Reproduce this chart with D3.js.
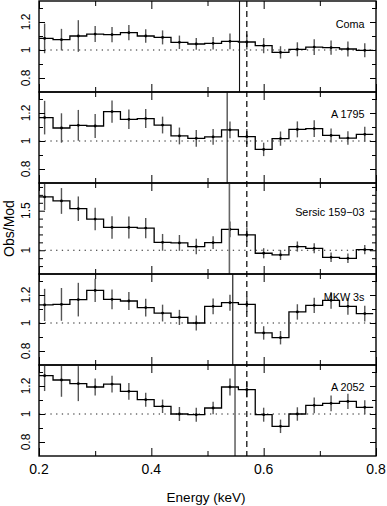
<!DOCTYPE html>
<html>
<head>
<meta charset="utf-8">
<script src="https://cdn.jsdelivr.net/npm/d3@7"></script>
<style>
  body { margin: 0; background: #fff; }
  svg { display: block; font-family: "Liberation Sans", Arial, Helvetica, sans-serif; }
  .domain { display: none; }
</style>
</head>
<body>
<div id="chart"></div>
<script>
// Bin centres (keV), bins are 0.03 keV wide
const energy = [0.21, 0.24, 0.27, 0.30, 0.33, 0.36, 0.39, 0.42, 0.45, 0.48,
                0.51, 0.54, 0.57, 0.60, 0.63, 0.66, 0.69, 0.72, 0.75, 0.78];
const binWidth = 0.03;

const clusterNames = ["Coma", "A 1795", "Sersic 159\u221203", "MKW 3s", "A 2052"];

// Obs/Mod ratios and 1-sigma errors
const comaRatio = [1.083, 1.074, 1.100, 1.114, 1.110, 1.124, 1.100, 1.090, 1.055, 1.043,
                   1.048, 1.062, 1.057, 1.031, 0.983, 1.005, 1.021, 1.017, 1.007, 0.998];
const comaErr   = [0.106, 0.077, 0.113, 0.057, 0.054, 0.055, 0.048, 0.050, 0.048, 0.042,
                   0.045, 0.056, 0.054, 0.054, 0.044, 0.050, 0.056, 0.051, 0.054, 0.050];

const a1795Ratio = [1.167, 1.093, 1.112, 1.107, 1.210, 1.155, 1.160, 1.114, 1.036, 1.019,
                    1.029, 1.079, 1.031, 0.940, 1.017, 1.083, 1.088, 1.040, 1.021, 1.048];
const a1795Err   = [0.120, 0.105, 0.110, 0.086, 0.080, 0.070, 0.068, 0.060, 0.060, 0.060,
                    0.056, 0.060, 0.054, 0.048, 0.051, 0.057, 0.060, 0.050, 0.048, 0.054];

const sersicRatio = [1.674, 1.623, 1.525, 1.394, 1.288, 1.288, 1.280, 1.100, 1.093, 1.047,
                     1.097, 1.263, 1.195, 0.962, 0.941, 1.047, 1.025, 0.911, 0.898, 1.008];
const sersicErr   = [0.165, 0.163, 0.155, 0.142, 0.142, 0.138, 0.127, 0.106, 0.100, 0.097,
                     0.080, 0.100, 0.095, 0.064, 0.064, 0.064, 0.064, 0.060, 0.060, 0.057];

const mkw3sRatio = [1.129, 1.133, 1.167, 1.233, 1.169, 1.157, 1.110, 1.071, 1.040, 1.000,
                    1.119, 1.145, 1.133, 0.929, 0.895, 1.079, 1.126, 1.162, 1.119, 1.067];
const mkw3sErr   = [0.115, 0.117, 0.120, 0.083, 0.070, 0.065, 0.063, 0.060, 0.054, 0.054,
                    0.056, 0.057, 0.054, 0.048, 0.048, 0.055, 0.055, 0.060, 0.060, 0.056];

const a2052Ratio = [1.274, 1.243, 1.217, 1.193, 1.214, 1.162, 1.102, 1.055, 1.000, 0.995,
                    1.043, 1.193, 1.174, 0.995, 0.912, 1.000, 1.062, 1.076, 1.090, 1.048];
const a2052Err   = [0.110, 0.120, 0.125, 0.060, 0.060, 0.060, 0.050, 0.048, 0.050, 0.050,
                    0.045, 0.060, 0.057, 0.050, 0.048, 0.048, 0.056, 0.057, 0.054, 0.050];

// Redshifted line energy per cluster (solid) and rest energy (dashed)
const lineEnergy = [0.557, 0.535, 0.539, 0.545, 0.549];
const restEnergy = 0.57;

// y ranges and ticks per panel
const yDomains = [[0.7, 1.35], [0.7, 1.35], [0.7, 1.85], [0.7, 1.35], [0.7, 1.35]];
const yMajor = [[0.8, 1, 1.2], [0.8, 1, 1.2], [1, 1.5], [0.8, 1, 1.2], [0.8, 1, 1.2]];
const yMinor = [[0.9, 1.1, 1.3], [0.9, 1.1, 1.3],
                [0.8, 0.9, 1.1, 1.2, 1.3, 1.4, 1.6, 1.7, 1.8],
                [0.9, 1.1, 1.3], [0.9, 1.1, 1.3]];
const xMajor = [0.2, 0.4, 0.6, 0.8];
const xMinor = [0.3, 0.5, 0.7];

const ratios = [comaRatio, a1795Ratio, sersicRatio, mkw3sRatio, a2052Ratio];
const errors = [comaErr, a1795Err, sersicErr, mkw3sErr, a2052Err];

// Layout
const W = 387, H = 506;
const plotLeft = 39, plotRight = 376, plotTop = 1, panelH = 91;
const labelDy = [27, 26, 33, 27, 26];
const lineColor = ["#111", "#222", "#666", "#111", "#222"];

const svg = d3.select("#chart").append("svg")
    .attr("width", W)
    .attr("height", H);

const x = d3.scaleLinear().domain([0.2, 0.8]).range([plotLeft, plotRight]).clamp(true);

clusterNames.forEach((name, p) => {
    const y0 = plotTop + p * panelH;
    const y = d3.scaleLinear().domain(yDomains[p]).range([y0 + panelH, y0]);
    const g = svg.append("g");

    svg.append("clipPath").attr("id", "clip" + p)
        .append("rect")
        .attr("x", plotLeft).attr("y", y0)
        .attr("width", plotRight - plotLeft).attr("height", panelH);

    const data = energy.map((e, i) => ({ e, v: ratios[p][i], err: errors[p][i] }));
    const inner = g.append("g").attr("clip-path", `url(#clip${p})`);

    // dotted unity line
    inner.append("line")
        .attr("x1", x(0.2)).attr("x2", x(0.8))
        .attr("y1", y(1)).attr("y2", y(1))
        .attr("stroke", "#222")
        .attr("stroke-width", 1.2)
        .attr("stroke-dasharray", "1.3,4.4");

    // error bars
    inner.selectAll(".err")
        .data(data)
        .enter()
        .append("line")
        .attr("class", "err")
        .attr("x1", d => x(d.e)).attr("x2", d => x(d.e))
        .attr("y1", d => y(d.v - d.err)).attr("y2", d => y(d.v + d.err))
        .attr("stroke", "#555")
        .attr("stroke-width", 1.4);

    // step histogram
    const steps = [];
    data.forEach(d => {
        steps.push([d.e - binWidth / 2, d.v]);
        steps.push([d.e + binWidth / 2, d.v]);
    });
    inner.append("path")
        .attr("d", d3.line().x(d => x(d[0])).y(d => y(d[1]))(steps))
        .attr("fill", "none")
        .attr("stroke", "#000")
        .attr("stroke-width", 1.3);

    // points
    inner.selectAll(".pt")
        .data(data)
        .enter()
        .append("circle")
        .attr("class", "pt")
        .attr("cx", d => x(d.e))
        .attr("cy", d => y(d.v))
        .attr("r", 1.4)
        .attr("fill", "#000");

    // line energy (solid)
    g.append("line")
        .attr("x1", x(lineEnergy[p])).attr("x2", x(lineEnergy[p]))
        .attr("y1", y0).attr("y2", y0 + panelH)
        .attr("stroke", lineColor[p])
        .attr("stroke-width", p === 2 ? 1.6 : 1.1);

    // ticks
    const tickAxis = (axis, tx, ty) => {
        const a = g.append("g")
            .attr("transform", `translate(${tx},${ty})`)
            .call(axis);
        a.selectAll("line").attr("stroke", "#000").attr("stroke-width", 1);
        a.selectAll("text").remove();
    };
    tickAxis(d3.axisLeft(y).tickValues(yMajor[p]).tickSize(-6), plotLeft, 0);
    tickAxis(d3.axisLeft(y).tickValues(yMinor[p]).tickSize(-4), plotLeft, 0);
    tickAxis(d3.axisRight(y).tickValues(yMajor[p]).tickSize(-6), plotRight, 0);
    tickAxis(d3.axisRight(y).tickValues(yMinor[p]).tickSize(-4), plotRight, 0);
    tickAxis(d3.axisTop(x).tickValues(xMajor).tickSize(-8), 0, y0);
    tickAxis(d3.axisTop(x).tickValues(xMinor).tickSize(-5), 0, y0);
    tickAxis(d3.axisBottom(x).tickValues(xMajor).tickSize(-8), 0, y0 + panelH);
    tickAxis(d3.axisBottom(x).tickValues(xMinor).tickSize(-5), 0, y0 + panelH);

    // frame
    g.append("rect")
        .attr("x", plotLeft).attr("y", y0)
        .attr("width", plotRight - plotLeft).attr("height", panelH)
        .attr("fill", "none")
        .attr("stroke", "#000")
        .attr("stroke-width", 1.4);

    // y tick labels (rotated)
    g.selectAll(".ylab")
        .data(yMajor[p])
        .enter()
        .append("text")
        .attr("class", "ylab")
        .attr("transform", d => `translate(29.5,${y(d)}) rotate(-90)`)
        .attr("text-anchor", "middle")
        .style("font-size", "12px")
        .text(d => d3.format("~g")(d));

    // cluster name
    g.append("text")
        .attr("x", 364.5)
        .attr("y", y0 + labelDy[p])
        .attr("text-anchor", "end")
        .style("font-size", "10.8px")
        .text(name);
});

// dashed rest-energy line across all panels
const plotBottom = plotTop + 5 * panelH;
svg.append("line")
    .attr("x1", x(restEnergy)).attr("x2", x(restEnergy))
    .attr("y1", plotTop).attr("y2", plotBottom)
    .attr("stroke", "#000")
    .attr("stroke-width", 1.2)
    .attr("stroke-dasharray", "6,4");

// x tick labels
svg.selectAll(".xlab")
    .data(xMajor)
    .enter()
    .append("text")
    .attr("class", "xlab")
    .attr("x", d => x(d))
    .attr("y", 473.5)
    .attr("text-anchor", "middle")
    .style("font-size", "14px")
    .text(d => d3.format(".1f")(d));

svg.append("text")
    .attr("x", 206)
    .attr("y", 501.5)
    .attr("text-anchor", "middle")
    .style("font-size", "13.5px")
    .text("Energy (keV)");

svg.append("text")
    .attr("transform", `translate(13.5,${(plotTop + plotBottom) / 2}) rotate(-90)`)
    .attr("text-anchor", "middle")
    .style("font-size", "14px")
    .text("Obs/Mod");
</script>
</body>
</html>
